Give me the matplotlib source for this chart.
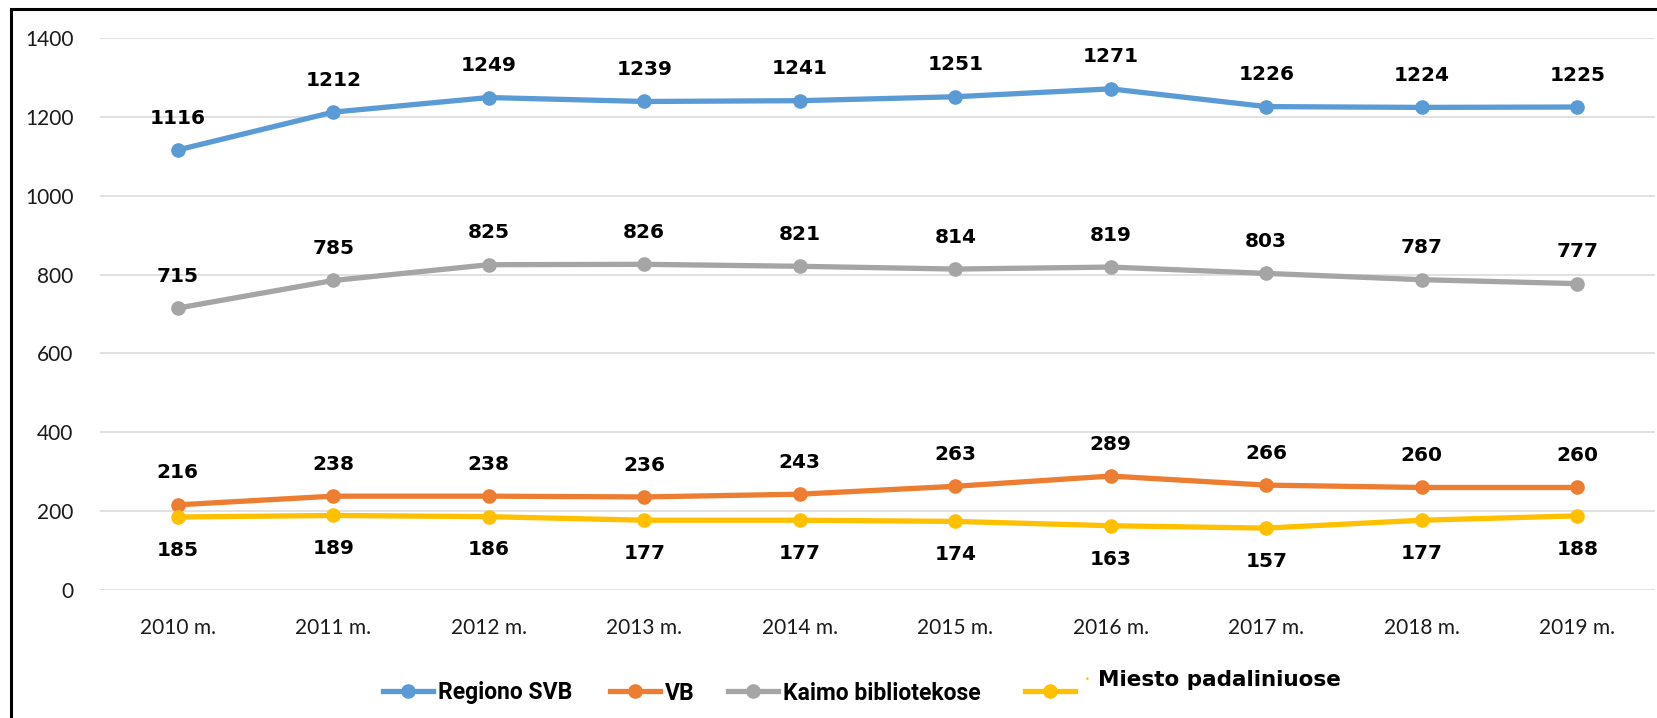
import numpy as np
import matplotlib.pyplot as plt
from matplotlib.lines import Line2D
from matplotlib.patches import Rectangle

years = ['2010 m.', '2011 m.', '2012 m.', '2013 m.', '2014 m.',
         '2015 m.', '2016 m.', '2017 m.', '2018 m.', '2019 m.']
regiono = [1116, 1212, 1249, 1239, 1241, 1251, 1271, 1226, 1224, 1225]
vb = [216, 238, 238, 236, 243, 263, 289, 266, 260, 260]
kaimo = [715, 785, 825, 826, 821, 814, 819, 803, 787, 777]
miesto = [185, 189, 186, 177, 177, 174, 163, 157, 177, 188]

names = ['Regiono SVB', 'VB', 'Kaimo bibliotekose', 'Miesto padaliniuose']
colors = ['#5B9BD5', '#ED7D31', '#A5A5A5', '#FFC000']

W, H = 1657, 718
fig = plt.figure(figsize=(W / 100, H / 100), dpi=100)
ax = fig.add_axes([100 / W, 1 - 590 / H, 1555 / W, 552 / H])

x = np.arange(len(years))
series = [regiono, vb, kaimo, miesto]
above = [True, True, True, False]
for vals, c, up in zip(series, colors, above):
    ax.plot(x, vals, color=c, lw=3.8, marker='o', ms=9.5, solid_capstyle='round', zorder=3)
    for xi, v in zip(x, vals):
        ax.annotate(str(v), (xi, v), xytext=(0, 23 if up else -24), textcoords='offset points',
                    ha='center', va='center', fontsize=14.5, fontweight='bold',
                    family='DejaVu Sans', color='black', zorder=4)

ax.set_xlim(-0.5, len(years) - 0.5)
ax.set_ylim(0, 1400)
ax.set_yticks(np.arange(0, 1401, 200))
ax.set_xticks(x)
ax.set_xticklabels(years)
ax.grid(axis='y', color='#D9D9D9', lw=1.1)
ax.set_axisbelow(True)
for s in ax.spines.values():
    s.set_visible(False)
ax.tick_params(length=0, labelsize=15, labelcolor='#1a1a1a')
ax.tick_params(axis='x', pad=20)
ax.tick_params(axis='y', pad=19)
for lab in ax.get_xticklabels() + ax.get_yticklabels():
    lab.set_family('Lato')

# legend entries placed one by one, like in the original
leg_x = [383, 610, 728, 1025]
leg_lab = names[:3] + [' ']
for xs, c, lab in zip(leg_x, colors, leg_lab):
    h = Line2D([], [], color=c, lw=3.8, marker='o', ms=9.5)
    fig.legend([h], [lab], loc='center left', bbox_to_anchor=(xs / W, 1 - 693 / H),
               frameon=False, borderpad=0, borderaxespad=0, handlelength=2.2,
               handletextpad=0.2, prop={'family': 'Roboto', 'weight': 'bold', 'size': 16.5})
fig.text(1098 / W, 1 - 680 / H, names[3], ha='left', va='center', fontsize=15.5,
         fontweight='bold', family='DejaVu Sans')
fig.text(1087 / W, 1 - 679 / H, '•', ha='center', va='center', fontsize=6, color=colors[3])

# black frame on top and left
fig.patches.append(Rectangle((11 / W, -0.05), 1.2, 1.05 - 9 / H, transform=fig.transFigure,
                             fill=False, ec='black', lw=2.2))

fig.savefig('out.png', dpi=100)
